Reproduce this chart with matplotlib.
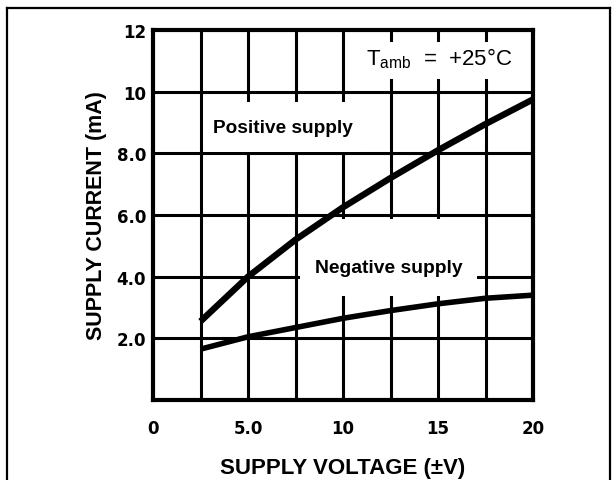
import matplotlib
matplotlib.use("Agg")
import matplotlib.pyplot as plt
from matplotlib.patches import Rectangle
from matplotlib.lines import Line2D

# supply voltage (+/- V) and supply current (mA)
voltage = [2.5, 5.0, 7.5, 10.0, 12.5, 15.0, 17.5, 20.0]
i_positive = [2.55, 4.0, 5.2, 6.25, 7.2, 8.1, 8.95, 9.75]
i_negative = [1.65, 2.05, 2.35, 2.65, 2.9, 3.12, 3.3, 3.4]

x_ticks = [0, 5, 10, 15, 20]
x_ticklabels = ['0', '5.0', '10', '15', '20']
y_ticks = [2, 4, 6, 8, 10, 12]
y_ticklabels = ['2.0', '4.0', '6.0', '8.0', '10', '12']
x_grid = [2.5, 5, 7.5, 10, 12.5, 15, 17.5]
y_grid = [2, 4, 6, 8, 10]

bold = ['Liberation Sans', 'DejaVu Sans']

fig = plt.figure(figsize=(6.16, 4.81), dpi=100)
ax = fig.add_axes([0.2484, 0.1663, 0.6169, 0.7693])
ax.set_xlim(0, 20)
ax.set_ylim(0, 12)

#grid
for x in x_grid:
    ax.axvline(x, color='black', lw=2.2, zorder=1)
for y in y_grid:
    ax.axhline(y, color='black', lw=2.2, zorder=1)

#white boxes behind the labels
for (x0, y0, w, h) in [(2.74, 8.05, 8.2, 1.6), (7.74, 3.36, 9.3, 2.5), (10.9, 10.41, 8.7, 1.2)]:
    ax.add_patch(Rectangle((x0, y0), w, h, facecolor='white', edgecolor='none', zorder=2))

#curves
ax.plot(voltage, i_positive, color='black', lw=4.6, solid_capstyle='butt', zorder=3)
ax.plot(voltage, i_negative, color='black', lw=4.0, solid_capstyle='butt', zorder=3)

ax.text(3.15, 8.85, 'Positive supply', fontsize=13.7, fontweight='bold', family=bold,
        va='center', ha='left', zorder=4)
ax.text(8.5, 4.3, 'Negative supply', fontsize=13.9, fontweight='bold', family=bold,
        va='center', ha='left', zorder=4)
ax.text(11.2, 11.1, r'T$_{\mathregular{amb}}$  =  +25°C', fontsize=16, family=bold,
        va='center', ha='left', zorder=4)

for s in ax.spines.values():
    s.set_linewidth(3)
    s.set_zorder(5)

ax.set_xticks(x_ticks)
ax.set_xticklabels(x_ticklabels)
ax.set_yticks(y_ticks)
ax.set_yticklabels(y_ticklabels)
ax.tick_params(length=0, pad=5, labelsize=12)
for lab in ax.get_xticklabels() + ax.get_yticklabels():
    lab.set_fontweight('bold')
ax.tick_params(axis='x', pad=14)

ax.set_xlabel('SUPPLY VOLTAGE (±V)', fontsize=16, fontweight='bold', family=bold, labelpad=14)
ax.set_ylabel('SUPPLY CURRENT (mA)', fontsize=15.5, fontweight='bold', family=bold, labelpad=7)

#outer frame of the datasheet figure
W, H = 616.0, 481.0
fl, fr, ft = 6.5 / W, 609.5 / W, 1 - 9 / H
for xs, ys in [([fl, fl], [0, ft]), ([fl, fr], [ft, ft]), ([fr, fr], [ft, 0])]:
    fig.add_artist(Line2D(xs, ys, color='black', lw=1.6, transform=fig.transFigure))

plt.savefig('out.png', dpi=100)
